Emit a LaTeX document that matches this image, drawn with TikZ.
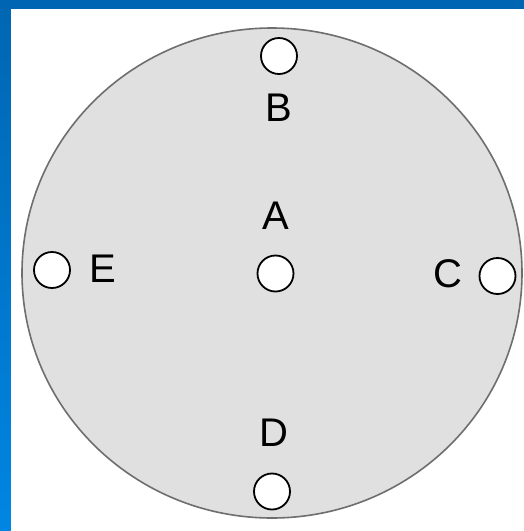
\documentclass[tikz,border=0pt]{standalone}
\usepackage{fontspec}
\setmainfont{Liberation Sans}
\definecolor{frametop}{HTML}{0066B2}
\definecolor{framebot}{HTML}{0086E2}
\definecolor{diskfill}{HTML}{E0E0E0}
\definecolor{diskline}{HTML}{6E6E6E}
\begin{document}
\begin{tikzpicture}[x=1pt,y=-1pt,
  site/.style={circle,draw=black,fill=white,line width=1.8pt,minimum size=36pt,inner sep=0pt},
  lbl/.style={font=\fontsize{40}{40}\selectfont,inner sep=0pt,text=black}]
\useasboundingbox (0,0) rectangle (524,531);
\shade[top color=frametop,bottom color=framebot] (0,0) rectangle (524,531);
\fill[white] (11,9) rectangle (524,531);
\draw[fill=diskfill,draw=diskline,line width=1.6pt] (272,273) ellipse [x radius=250,y radius=245];
\node[site] (b) at (279,56) {};
\node[site] (a) at (275.5,273.5) {};
\node[site] (c) at (497.5,276) {};
\node[site] (d) at (272,491.5) {};
\node[site] (e) at (52,270) {};
\node[lbl] (lb) at (279,107.5) {B};
\node[lbl] (la) at (276,215.5) {A};
\node[lbl] (lc) at (447.5,273.5) {C};
\node[lbl] (ld) at (273.5,432.5) {D};
\node[lbl] (le) at (103,269) {E};
\end{tikzpicture}
\end{document}
